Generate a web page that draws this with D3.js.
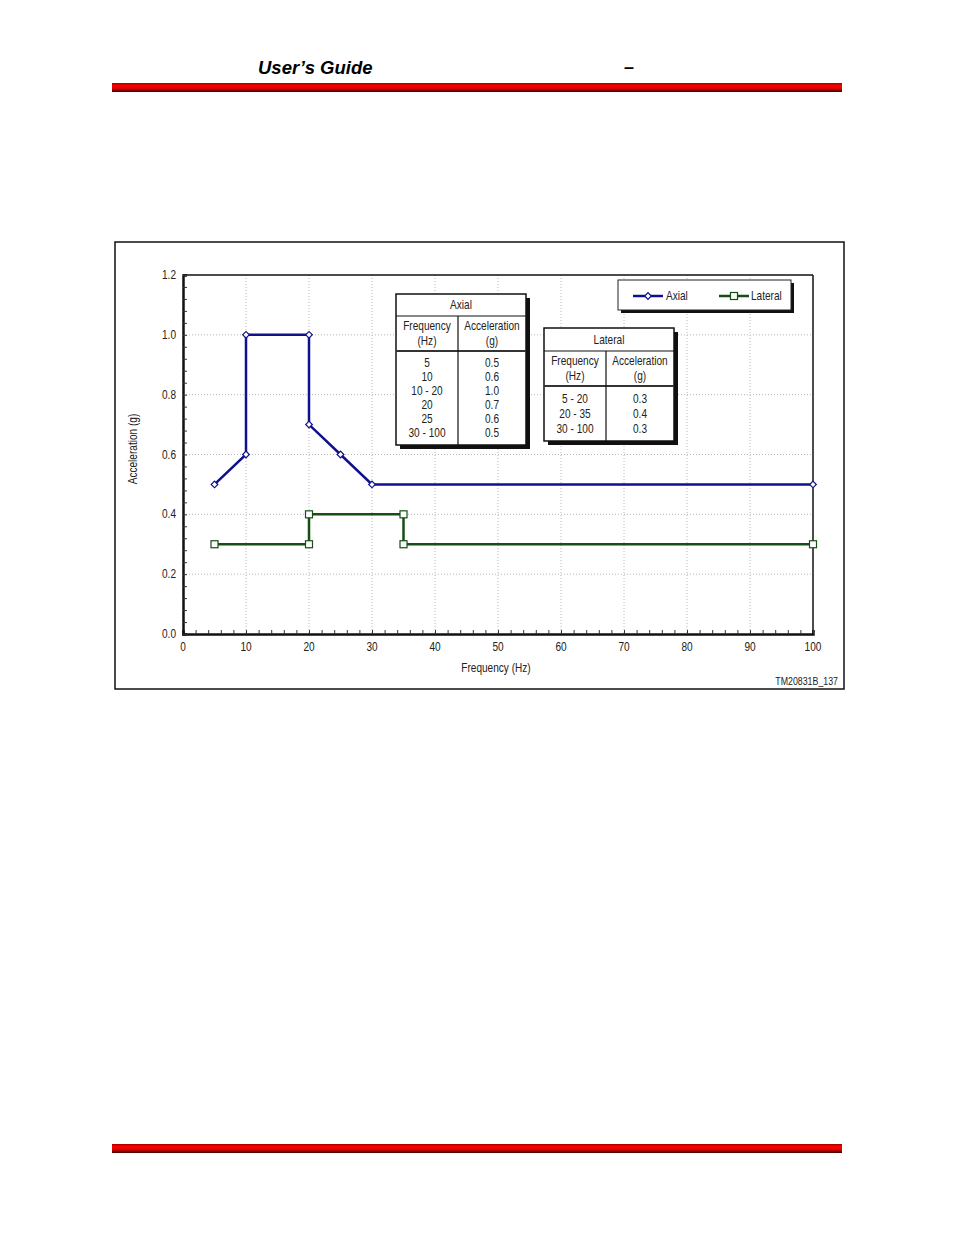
<!DOCTYPE html>
<html lang="en">
<head>
<meta charset="UTF-8">
<title>Vibration profile</title>
<script src="https://cdn.jsdelivr.net/npm/d3@7/dist/d3.min.js"></script>
<style>
  body { margin: 0; background: #fff; }
  svg text { font-family: "Liberation Sans", Arial, sans-serif; fill: #222; }
  .hdr { font-weight: bold; font-style: italic; fill: #000 !important; }
</style>
</head>
<body>
<svg id="page" width="954" height="1235"></svg>
<script>
// Kurvendaten (Frequenz in Hz, Beschleunigung in g)
var axialFreq = [5, 10, 10, 20, 20, 25, 30, 100];
var axialAcc  = [0.5, 0.6, 1.0, 1.0, 0.7, 0.6, 0.5, 0.5];
var lateralFreq = [5, 20, 20, 35, 35, 100];
var lateralAcc  = [0.3, 0.3, 0.4, 0.4, 0.3, 0.3];

var xTicks = [0, 10, 20, 30, 40, 50, 60, 70, 80, 90, 100];
var yTicks = [0.0, 0.2, 0.4, 0.6, 0.8, 1.0, 1.2];

// Tabellen im Diagramm
var axialTableFreq = ["5", "10", "10 - 20", "20", "25", "30 - 100"];
var axialTableAcc  = ["0.5", "0.6", "1.0", "0.7", "0.6", "0.5"];
var lateralTableFreq = ["5 - 20", "20 - 35", "30 - 100"];
var lateralTableAcc  = ["0.3", "0.4", "0.3"];

var axialColor = "#10108f";
var lateralColor = "#164e16";

var svg = d3.select("#page");

// schmale Schrift nachbilden (kein Arial Narrow vorhanden)
function ntext(parent, px, py, str, anchor, size) {
    return parent.append("text")
        .attr("transform", "translate(" + px + "," + py + ") scale(0.84,1)")
        .attr("text-anchor", anchor || "start")
        .attr("font-size", size || 12)
        .text(str);
}

// Kopfzeile mit rotem Balken
var defs = svg.append("defs");
var grad = defs.append("linearGradient").attr("id", "redbar")
    .attr("x1", 0).attr("y1", 0).attr("x2", 0).attr("y2", 1);
grad.append("stop").attr("offset", "0%").attr("stop-color", "#a00000");
grad.append("stop").attr("offset", "30%").attr("stop-color", "#ff0000");
grad.append("stop").attr("offset", "60%").attr("stop-color", "#e00000");
grad.append("stop").attr("offset", "100%").attr("stop-color", "#3a0000");

svg.append("text").attr("class", "hdr").attr("x", 258).attr("y", 74)
    .attr("font-size", 18.5).text("User\u2019s Guide");
svg.append("text").attr("class", "hdr").attr("x", 624).attr("y", 73)
    .attr("font-size", 18).text("\u2013");
svg.append("rect").attr("x", 112).attr("y", 83).attr("width", 730).attr("height", 9)
    .attr("fill", "url(#redbar)");
svg.append("rect").attr("x", 112).attr("y", 1144).attr("width", 730).attr("height", 9)
    .attr("fill", "url(#redbar)");

// Rahmen um die Abbildung
svg.append("rect").attr("x", 115).attr("y", 242).attr("width", 729).attr("height", 447)
    .attr("fill", "#fff").attr("stroke", "#111").attr("stroke-width", 1.5);

// Plotbereich
var pLeft = 183, pRight = 813, pTop = 275, pBottom = 634;
var x = d3.scaleLinear().domain([0, 100]).range([pLeft, pRight]);
var y = d3.scaleLinear().domain([0, 1.2]).range([pBottom, pTop]);

var g = svg.append("g");

// Gitterlinien (gepunktet)
g.selectAll("line.vgrid").data(xTicks.filter(d => d > 0 && d < 100)).join("line")
    .attr("x1", d => x(d)).attr("x2", d => x(d)).attr("y1", pTop).attr("y2", pBottom)
    .attr("stroke", "#b8b8b8").attr("stroke-width", 1).attr("stroke-dasharray", "1,2");
g.selectAll("line.hgrid").data(yTicks.filter(d => d > 0 && d < 1.2)).join("line")
    .attr("x1", pLeft).attr("x2", pRight).attr("y1", d => y(d)).attr("y2", d => y(d))
    .attr("stroke", "#b8b8b8").attr("stroke-width", 1).attr("stroke-dasharray", "1,2");

// Oberer und rechter Rand
g.append("line").attr("x1", pLeft).attr("x2", pRight).attr("y1", pTop).attr("y2", pTop)
    .attr("stroke", "#111").attr("stroke-width", 1.5);
g.append("line").attr("x1", pRight).attr("x2", pRight).attr("y1", pTop).attr("y2", pBottom)
    .attr("stroke", "#111").attr("stroke-width", 1.5);

// Achsen mit nach innen zeigenden Nebenstrichen
var xAxis = d3.axisBottom(x).tickValues(d3.range(0, 101, 2)).tickSize(-4).tickFormat("");
var xAx = g.append("g").attr("transform", "translate(0," + pBottom + ")").call(xAxis);
var yAxis = d3.axisLeft(y).tickValues(d3.range(0, 1.2001, 0.04)).tickSize(-4).tickFormat("");
var yAx = g.append("g").attr("transform", "translate(" + pLeft + ",0)").call(yAxis);
[xAx, yAx].forEach(function(a) {
    a.select(".domain").attr("stroke", "#111").attr("stroke-width", 2.5);
    a.selectAll(".tick line").attr("stroke", "#333").attr("stroke-width", 1);
});

// Achsenbeschriftungen
xTicks.forEach(function(d) { ntext(g, x(d), pBottom + 17, d, "middle", 12); });
yTicks.forEach(function(d) { ntext(g, pLeft - 7, y(d) + 4, d3.format(".1f")(d), "end", 12); });

ntext(svg, 496, 672, "Frequency (Hz)", "middle", 12);
svg.append("text").attr("transform", "translate(137,449) rotate(-90) scale(0.84,1)")
    .attr("text-anchor", "middle").attr("font-size", 12).text("Acceleration (g)");
ntext(svg, 838, 685, "TM20831B_137", "end", 10.5);

// Kurven
var line = d3.line().x(d => x(d[0])).y(d => y(d[1]));
var axialPts = d3.zip(axialFreq, axialAcc);
var lateralPts = d3.zip(lateralFreq, lateralAcc);

g.append("path").datum(lateralPts).attr("d", line).attr("fill", "none")
    .attr("stroke", lateralColor).attr("stroke-width", 2.5);
g.append("path").datum(axialPts).attr("d", line).attr("fill", "none")
    .attr("stroke", axialColor).attr("stroke-width", 2.5);

var diamond = d3.symbol().type(d3.symbolSquare).size(22);
g.selectAll("path.ax").data(axialPts).join("path")
    .attr("d", diamond)
    .attr("transform", d => "translate(" + x(d[0]) + "," + y(d[1]) + ") rotate(45)")
    .attr("fill", "#fff").attr("stroke", axialColor).attr("stroke-width", 1.2);
g.selectAll("rect.lt").data(lateralPts).join("rect")
    .attr("x", d => x(d[0]) - 3.5).attr("y", d => y(d[1]) - 3.5)
    .attr("width", 7).attr("height", 7)
    .attr("fill", "#fff").attr("stroke", lateralColor).attr("stroke-width", 1.2);

// Tabelle zeichnen
function drawTable(x0, y0, w, colX, titleH, headH, rowH, firstRow, title, freq, acc) {
    var h = titleH + headH + rowH * freq.length + 10;
    var t = svg.append("g").attr("transform", "translate(" + x0 + "," + y0 + ")");
    t.append("rect").attr("x", 4).attr("y", 4).attr("width", w).attr("height", h).attr("fill", "#111");
    t.append("rect").attr("x", 0).attr("y", 0).attr("width", w).attr("height", h)
        .attr("fill", "#fff").attr("stroke", "#111").attr("stroke-width", 1.5);
    t.append("line").attr("x1", 0).attr("x2", w).attr("y1", titleH).attr("y2", titleH)
        .attr("stroke", "#111").attr("stroke-width", 1.2);
    t.append("line").attr("x1", 0).attr("x2", w).attr("y1", titleH + headH).attr("y2", titleH + headH)
        .attr("stroke", "#333").attr("stroke-width", 2);
    t.append("line").attr("x1", colX).attr("x2", colX).attr("y1", titleH).attr("y2", h)
        .attr("stroke", "#111").attr("stroke-width", 1.2);
    ntext(t, w / 2, titleH / 2 + 4, title, "middle", 12);
    var c1 = colX / 2, c2 = colX + (w - colX) / 2;
    [["Frequency", "(Hz)", c1], ["Acceleration", "(g)", c2]].forEach(function(hd) {
        ntext(t, hd[2], titleH + 14, hd[0], "middle", 12);
        ntext(t, hd[2], titleH + 29, hd[1], "middle", 12);
    });
    freq.forEach(function(d, i) { ntext(t, c1, titleH + headH + firstRow + i * rowH, d, "middle", 12); });
    acc.forEach(function(d, i) { ntext(t, c2, titleH + headH + firstRow + i * rowH, d, "middle", 12); });
}
drawTable(396, 294, 130, 62, 22, 35, 14, 16, "Axial", axialTableFreq, axialTableAcc);
drawTable(544, 328, 130, 62, 23, 35, 15, 17, "Lateral", lateralTableFreq, lateralTableAcc);

// Legende
var lg = svg.append("g").attr("transform", "translate(618,280)");
lg.append("rect").attr("x", 3).attr("y", 3).attr("width", 173).attr("height", 30).attr("fill", "#111");
lg.append("rect").attr("width", 173).attr("height", 30).attr("fill", "#fff")
    .attr("stroke", "#222").attr("stroke-width", 1);
lg.append("line").attr("x1", 15).attr("x2", 45).attr("y1", 16).attr("y2", 16)
    .attr("stroke", axialColor).attr("stroke-width", 2.5);
lg.append("path").attr("d", diamond).attr("transform", "translate(30,16) rotate(45)")
    .attr("fill", "#fff").attr("stroke", axialColor).attr("stroke-width", 1.2);
ntext(lg, 48, 20, "Axial", "start", 12);
lg.append("line").attr("x1", 101).attr("x2", 131).attr("y1", 16).attr("y2", 16)
    .attr("stroke", lateralColor).attr("stroke-width", 2.5);
lg.append("rect").attr("x", 112.5).attr("y", 12.5).attr("width", 7).attr("height", 7)
    .attr("fill", "#fff").attr("stroke", lateralColor).attr("stroke-width", 1.2);
ntext(lg, 133, 20, "Lateral", "start", 12);
</script>
</body>
</html>
